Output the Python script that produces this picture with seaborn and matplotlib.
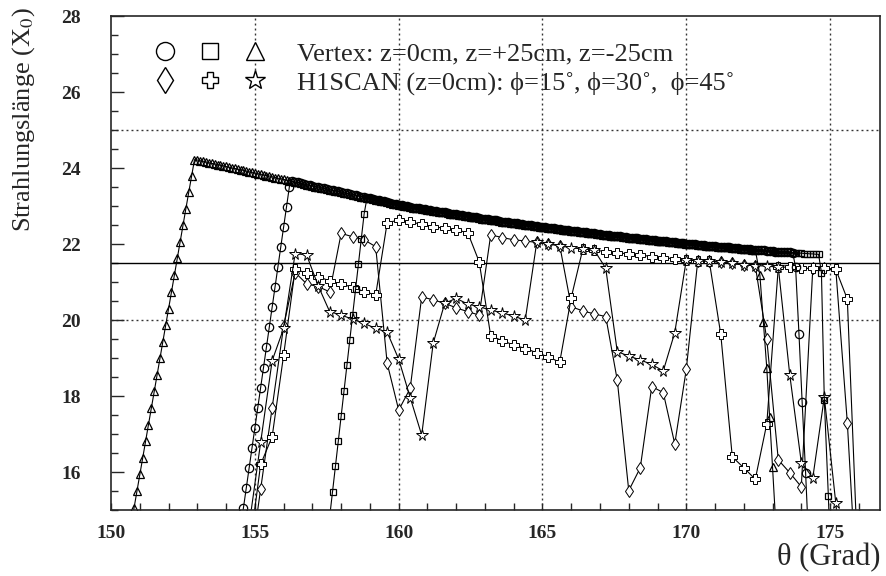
import numpy as np
import matplotlib
matplotlib.use("Agg")
import matplotlib.pyplot as plt
from matplotlib.lines import Line2D
from matplotlib.legend_handler import HandlerTuple
from matplotlib.ticker import MultipleLocator
import seaborn as sns

# ---- envelope shared by the three vertex scans (0.1 deg steps, 152.9 .. 175.0)
env_theta = np.round(np.arange(152.9, 175.05, 0.1), 1)
envelope = [
    24.22,
    24.21, 24.19, 24.18, 24.16, 24.14, 24.12, 24.11, 24.09, 24.07, 24.06,
    24.04, 24.02, 24.00, 23.99, 23.97, 23.95, 23.94, 23.92, 23.90, 23.89,
    23.87, 23.85, 23.84, 23.82, 23.80, 23.79, 23.77, 23.75, 23.73, 23.72,
    23.70, 23.68, 23.67, 23.65, 23.63, 23.62, 23.60, 23.58, 23.56, 23.55,
    23.53, 23.51, 23.50, 23.48, 23.47, 23.45, 23.43, 23.42, 23.40, 23.39,
    23.37, 23.35, 23.33, 23.32, 23.30, 23.29, 23.27, 23.25, 23.23, 23.22,
    23.20, 23.18, 23.17, 23.15, 23.13, 23.12, 23.10, 23.08, 23.06, 23.05,
    23.03, 23.02, 23.00, 22.99, 22.98, 22.96, 22.95, 22.94, 22.92, 22.91,
    22.90, 22.89, 22.87, 22.86, 22.85, 22.84, 22.83, 22.82, 22.80, 22.79,
    22.78, 22.77, 22.76, 22.74, 22.73, 22.72, 22.71, 22.70, 22.68, 22.67,
    22.66, 22.65, 22.64, 22.63, 22.62, 22.60, 22.59, 22.58, 22.57, 22.56,
    22.55, 22.54, 22.53, 22.52, 22.51, 22.50, 22.49, 22.48, 22.47, 22.46,
    22.45, 22.44, 22.43, 22.42, 22.41, 22.40, 22.39, 22.38, 22.37, 22.36,
    22.35, 22.34, 22.33, 22.32, 22.31, 22.31, 22.30, 22.29, 22.28, 22.27,
    22.26, 22.25, 22.24, 22.23, 22.22, 22.22, 22.21, 22.20, 22.19, 22.18,
    22.17, 22.16, 22.15, 22.15, 22.14, 22.13, 22.12, 22.11, 22.11, 22.10,
    22.09, 22.08, 22.07, 22.07, 22.06, 22.05, 22.04, 22.03, 22.03, 22.02,
    22.01, 22.00, 22.00, 21.99, 21.98, 21.98, 21.97, 21.96, 21.96, 21.95,
    21.94, 21.93, 21.93, 21.92, 21.91, 21.91, 21.90, 21.89, 21.89, 21.88,
    21.87, 21.86, 21.86, 21.85, 21.85, 21.84, 21.83, 21.83, 21.82, 21.82,
    21.81, 21.80, 21.80, 21.79, 21.79, 21.78, 21.78, 21.77, 21.77, 21.76,
    21.76, 21.75, 21.75, 21.74, 21.74, 21.73, 21.73, 21.72, 21.72, 21.71,
    21.71,
]

# Vertex z=0cm (circles)
circ_rise_theta = [154.5, 154.6, 154.7, 154.8, 154.9, 155.0, 155.1, 155.2, 155.3,
                   155.4, 155.5, 155.6, 155.7, 155.8, 155.9, 156.0, 156.1, 156.2]
circ_rise = [14.52, 15.05, 15.58, 16.10, 16.63, 17.16, 17.69, 18.22, 18.75,
             19.28, 19.81, 20.34, 20.87, 21.40, 21.92, 22.45, 22.98, 23.51]
circ_env = (156.3, 173.7)
circ_fall_theta = [173.8, 173.92, 174.03, 174.15, 174.26]
circ_fall = [21.40, 19.62, 17.83, 15.97, 14.10]

# Vertex z=+25cm (squares)
sq_rise_theta = [157.6, 157.7, 157.8, 157.9, 158.0, 158.1, 158.2, 158.3, 158.4,
                 158.5, 158.6, 158.7, 158.8]
sq_rise = [14.82, 15.48, 16.15, 16.81, 17.48, 18.14, 18.81, 19.47, 20.14,
           20.81, 21.47, 22.14, 22.80]
sq_env = (158.9, 174.6)
sq_fall_theta = [174.7, 174.8, 174.94, 175.05]
sq_fall = [21.25, 17.90, 15.38, 13.00]

# Vertex z=-25cm (triangles)
tri_rise_theta = [150.7, 150.8, 150.9, 151.0, 151.1, 151.2, 151.3, 151.4, 151.5,
                  151.6, 151.7, 151.8, 151.9, 152.0, 152.1, 152.2, 152.3, 152.4,
                  152.5, 152.6, 152.7, 152.8]
tri_rise = [14.63, 15.06, 15.50, 15.94, 16.37, 16.81, 17.25, 17.68, 18.12,
            18.56, 18.99, 19.43, 19.87, 20.30, 20.74, 21.18, 21.62, 22.05,
            22.49, 22.93, 23.36, 23.80]
tri_env = (152.9, 172.4)
tri_fall_theta = [172.56, 172.68, 172.8, 172.9, 173.0, 173.1]
tri_fall = [21.18, 19.96, 18.73, 17.44, 16.12, 14.80]

# ---- H1SCAN (z=0cm), 0.4 deg steps 154.8 .. 176.0
scan_theta = np.round(np.arange(154.8, 176.01, 0.4), 1)
phi15 = [13.40, 15.55, 17.69, 19.84, 21.25, 20.95, 20.88, 20.74, 22.28, 22.19,
         22.11, 21.93, 18.86, 17.63, 18.20, 20.61, 20.53, 20.44, 20.32, 20.22,
         20.13, 22.24, 22.17, 22.11, 22.08, 22.04, 22.00, 21.96, 20.35, 20.24,
         20.16, 20.09, 18.42, 15.51, 16.11, 18.25, 18.09, 16.74, 18.70, 21.56,
         21.55, 21.52, 21.49, 21.45, 21.43, 19.49, 16.32, 15.98, 15.61, 21.36,
         21.36, 21.33, 17.30, 12.00]
phi30 = [13.90, 16.20, 16.93, 19.08, 21.33, 21.24, 21.14, 21.03, 20.95, 20.86,
         20.75, 20.66, 22.56, 22.63, 22.58, 22.52, 22.46, 22.41, 22.37, 22.30,
         21.53, 19.58, 19.46, 19.34, 19.25, 19.14, 19.03, 18.89, 20.59, 21.86,
         21.84, 21.80, 21.77, 21.74, 21.71, 21.67, 21.64, 21.61, 21.58, 21.56,
         21.55, 19.62, 16.40, 16.11, 15.81, 17.27, 21.39, 21.39, 21.36, 21.36,
         21.36, 21.33, 20.55, 13.00]
phi45 = [14.60, 16.78, 18.93, 19.78, 21.75, 21.71, 20.90, 20.22, 20.13, 20.02,
         19.91, 19.78, 19.68, 18.97, 17.96, 16.97, 19.39, 20.44, 20.57, 20.42,
         20.35, 20.26, 20.19, 20.10, 20.00, 22.04, 22.00, 21.96, 21.90, 21.87,
         21.84, 21.36, 19.17, 19.05, 18.95, 18.83, 18.66, 19.67, 21.58, 21.56,
         21.55, 21.52, 21.49, 21.45, 21.43, 21.42, 21.39, 18.55, 16.25, 15.85,
         17.97, 15.18, 12.00, np.nan]

reference_level = 21.5


def vertex_series(rise_t, rise_y, env_range, fall_t, fall_y):
    """rising edge + envelope section + falling edge"""
    lo, hi = env_range
    keep = (env_theta >= lo - 1e-6) & (env_theta <= hi + 1e-6)
    t = np.concatenate([rise_t, env_theta[keep], fall_t])
    y = np.concatenate([rise_y, np.asarray(envelope)[keep], fall_y])
    return t, y


sns.set_style("ticks")
plt.rcParams["font.family"] = ["Liberation Serif", "DejaVu Serif"]
plt.rcParams["mathtext.fontset"] = "stix"

fig = plt.figure(figsize=(8.87, 5.76), dpi=100)
ax = fig.add_axes([111.1 / 887, 66 / 576, 769 / 887, 494 / 576])

dot = (0, (1.4, 2.2))
for gx in [155, 160, 165, 170, 175]:
    ax.axvline(gx, color="#333333", lw=1.0, ls=dot, zorder=0)
for gy in [20, 25]:
    ax.axhline(gy, color="#333333", lw=1.0, ls=dot, zorder=0)
ax.axhline(reference_level, color="black", lw=1.0, zorder=1)

line_kw = dict(color="black", lw=0.8, mec="black",
               sort=False, estimator=None, ax=ax)

for yvals, mk, ms in [(phi15, "d", 6.5), (phi30, "P", 6.5), (phi45, "*", 8.5)]:
    sns.lineplot(x=scan_theta, y=yvals, marker=mk, ms=ms, mfc="white",
                 mew=0.7, **line_kw)

# vertex scans: hollow markers, so the dense envelope reads as a dark band
for parts, mk, ms in [
    ((tri_rise_theta, tri_rise, tri_env, tri_fall_theta, tri_fall), "^", 6),
    ((circ_rise_theta, circ_rise, circ_env, circ_fall_theta, circ_fall), "o", 6),
    ((sq_rise_theta, sq_rise, sq_env, sq_fall_theta, sq_fall), "s", 5),
]:
    t, y = vertex_series(*parts)
    sns.lineplot(x=t, y=y, marker=mk, ms=ms, mfc="none", mew=0.9, **line_kw)

ax.set_xlim(150, 176.74)
ax.set_ylim(15, 28)
ax.xaxis.set_major_locator(MultipleLocator(5))
ax.xaxis.set_minor_locator(MultipleLocator(1))
ax.yaxis.set_major_locator(MultipleLocator(2))
ax.yaxis.set_minor_locator(MultipleLocator(0.5))
ax.tick_params(axis="x", which="both", direction="in", length=5, width=1,
               pad=11, labelsize=14)
ax.tick_params(axis="y", which="major", direction="in", length=9.5, width=1,
               pad=22, labelsize=14)
ax.tick_params(axis="y", which="minor", direction="in", length=5, width=1)
for lab in ax.get_xticklabels() + ax.get_yticklabels():
    lab.set_fontweight("bold")
for sp in ax.spines.values():
    sp.set_linewidth(1.2)

ax.set_ylabel("Strahlungslänge (X$_0$)", fontsize=19)
ax.yaxis.set_label_coords(-0.0964, 0.79)
ax.set_xlabel("θ (Grad)", fontsize=22)
ax.xaxis.set_label_coords(1.0, -0.066)
ax.xaxis.label.set_horizontalalignment("right")

mk_kw = dict(ls="none", mfc="white", mec="black", mew=1.0)
vertex_keys = (Line2D([], [], marker="o", ms=13, **mk_kw),
               Line2D([], [], marker="s", ms=11.5, **mk_kw),
               Line2D([], [], marker="^", ms=13, **mk_kw))
scan_keys = (Line2D([], [], marker="d", ms=13, **mk_kw),
             Line2D([], [], marker="P", ms=12, **mk_kw),
             Line2D([], [], marker="*", ms=15, **mk_kw))
ax.legend([vertex_keys, scan_keys],
          ["Vertex: z=0cm, z=+25cm, z=-25cm",
           "H1SCAN (z=0cm): ϕ=15˚, ϕ=30˚,  ϕ=45˚"],
          handler_map={tuple: HandlerTuple(ndivide=None, pad=0)},
          loc="upper left", bbox_to_anchor=(0.0408, 0.947), frameon=False,
          borderpad=0, borderaxespad=0, handlelength=5.11, handletextpad=0.74,
          labelspacing=0.2, fontsize=19)

fig.savefig("out.png", dpi=100)
